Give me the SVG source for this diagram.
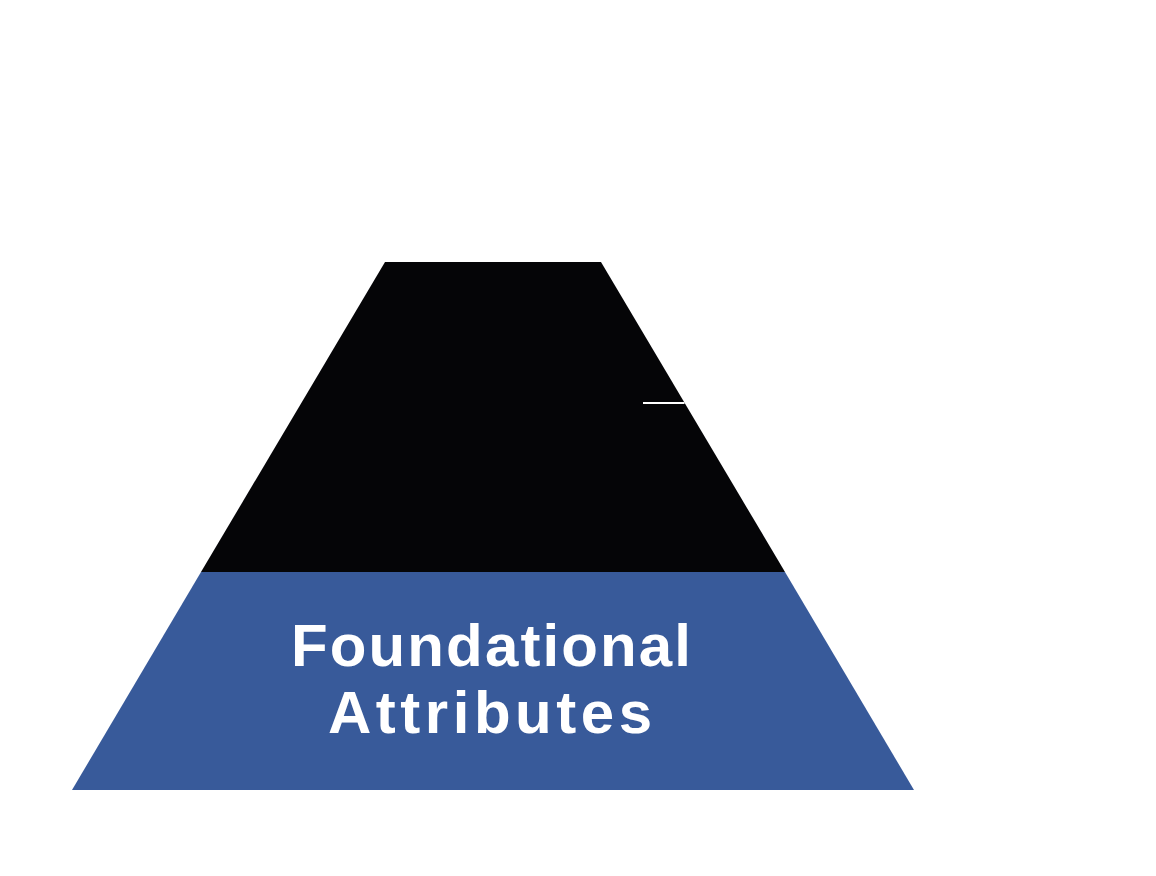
<svg xmlns="http://www.w3.org/2000/svg" width="1156" height="876" viewBox="0 0 1156 876">
<style>
.lbl{font-family:"Liberation Sans","DejaVu Sans",sans-serif;font-weight:bold;font-size:60px;fill:#ffffff;text-anchor:middle}
</style>
<rect width="1156" height="876" fill="#ffffff"/>
<g id="top-tier">
<polygon points="385,262 601,262 785,572 201,572" fill="#050507"/>
</g>
<g id="foundational">
<polygon points="201,572 785,572 914,790 72,790" fill="#385A9A"/>
<text class="lbl" x="491" y="666" textLength="400" lengthAdjust="spacing">Foundational</text>
<text class="lbl" x="490" y="733" textLength="324" lengthAdjust="spacing">Attributes</text>
</g>
<g id="connectors">
<line x1="643" y1="403" x2="684.5" y2="403" stroke="#ffffff" stroke-width="2"/>
</g>
</svg>
